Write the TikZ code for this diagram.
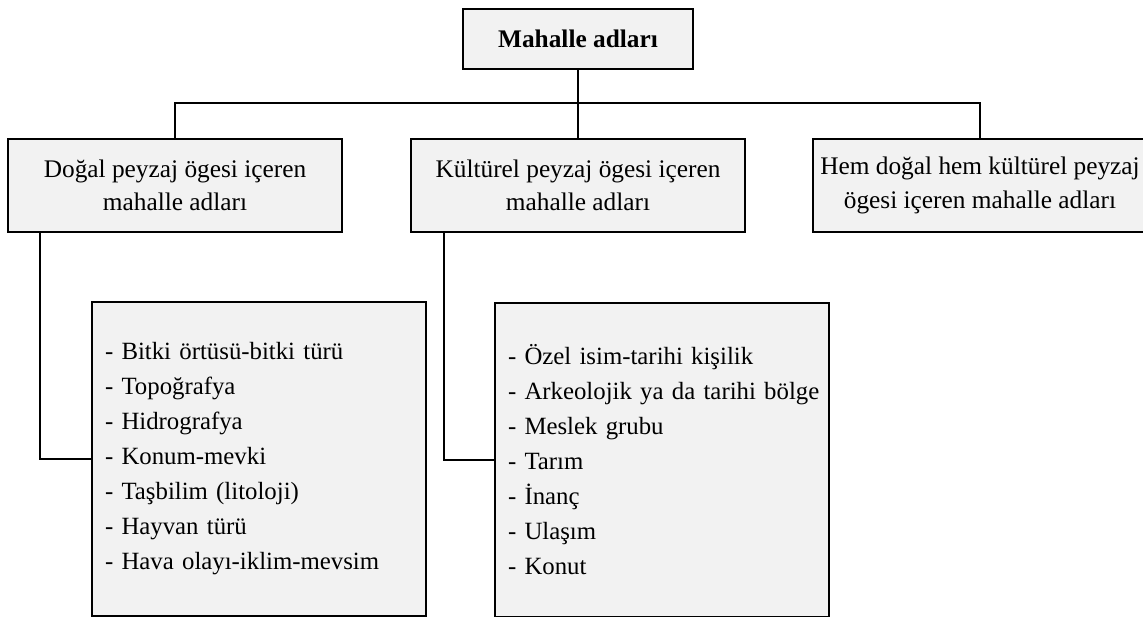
\documentclass[tikz,border=0pt]{standalone}
\usepackage{fontspec}
\setmainfont{Liberation Serif}
\usetikzlibrary{positioning}

\newlength\px
\setlength\px{0.75pt}

\tikzset{
    kutu/.style={draw, line width=2\px, fill={rgb,255:red,242;green,242;blue,242}, inner sep=0pt, font=\fontsize{19}{25}\selectfont},
    orta/.style={kutu, minimum width=334\px, minimum height=93\px, align=center},
    liste/.style={kutu, align=left, text width=308\px, minimum height=314\px, inner xsep=13\px, anchor=north west, font=\fontsize{18.6}{26.25}\selectfont},
    baglanti/.style={line width=2\px}
}

\begin{document}
\begin{tikzpicture}[x=0.75pt, y=0.75pt]
    \useasboundingbox (0,0) rectangle (1143,-617);
    \node[kutu, minimum width=230\px, minimum height=60\px, font=\fontsize{19}{24}\selectfont\bfseries] (ana) at (578,-39) {Mahalle adları};
    \node[orta] (dogal) at (175,-185.5) {Doğal peyzaj ögesi içeren\\mahalle adları};
    \node[orta] (kultur) at (578,-185.5) {Kültürel peyzaj ögesi içeren\\mahalle adları};
    \node[orta] (hem) at (980,-185.5) {Hem doğal hem kültürel peyzaj\\ögesi içeren mahalle adları};
    \node[liste] (dogalliste) at (91,-301) {- Bitki örtüsü-bitki türü\\- Topoğrafya\\- Hidrografya\\- Konum-mevki\\- Taşbilim (litoloji)\\- Hayvan türü\\- Hava olayı-iklim-mevsim};
    \node[liste] (kulturliste) at (494,-302) {- Özel isim-tarihi kişilik\\\mbox{- Arkeolojik ya da tarihi bölge}\\- Meslek grubu\\- Tarım\\- İnanç\\- Ulaşım\\- Konut};
    \coordinate (dugum) at (578,-103);
    \draw[baglanti] (ana.south) -- (dugum);
    \draw[baglanti] (dogal.north) |- (dugum) -| (hem.north);
    \draw[baglanti] (dugum) -- (kultur.north);
    \draw[baglanti] ([xshift=33\px]dogal.south west) |- (dogalliste.west);
    \draw[baglanti] ([xshift=34\px]kultur.south west) |- (kulturliste.west);
\end{tikzpicture}
\end{document}
